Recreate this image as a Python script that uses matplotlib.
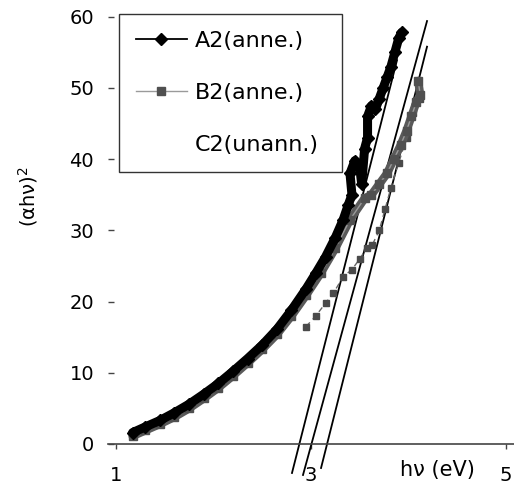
import matplotlib
matplotlib.use("Agg")
import matplotlib.pyplot as plt

plt.rcParams['font.family'] = ['DejaVu Sans']
plt.rcParams['mathtext.default'] = 'regular'

# ---- data ----
a2_x = [1.17, 1.30, 1.45, 1.60, 1.75, 1.90, 2.05, 2.20, 2.35, 2.50, 2.65, 2.80, 2.95, 3.05,
        3.15, 3.25, 3.33, 3.38, 3.42, 3.40, 3.45, 3.50, 3.52, 3.55, 3.58, 3.58, 3.62, 3.66,
        3.70, 3.74, 3.78, 3.82, 3.86, 3.90, 3.93]
a2_y = [1.6, 2.4, 3.3, 4.4, 5.6, 7.0, 8.5, 10.2, 12.0, 13.9, 16.1, 18.8, 21.8, 24.0,
        26.3, 29.0, 31.5, 33.5, 35.0, 38.0, 39.8, 38.8, 36.5, 41.5, 43.0, 46.0, 47.5, 47.0,
        48.5, 50.0, 51.5, 53.0, 55.0, 57.0, 57.8]

b2_x = [1.17, 1.30, 1.45, 1.60, 1.75, 1.90, 2.05, 2.20, 2.35, 2.50, 2.65, 2.80, 2.95,
        3.10, 3.25, 3.40, 3.55, 3.62, 3.70, 3.78, 3.85, 3.92, 3.98, 4.03, 4.08, 4.12, 4.10]
b2_y = [1.1, 1.9, 2.8, 3.8, 5.0, 6.4, 7.9, 9.6, 11.4, 13.3, 15.4, 18.0, 20.9,
        24.0, 27.5, 31.5, 34.5, 35.0, 36.5, 38.0, 40.0, 42.0, 44.0, 46.0, 48.0, 49.0, 51.0]

c2_x = [2.95, 3.05, 3.15, 3.23, 3.33, 3.42, 3.50, 3.57, 3.63, 3.70, 3.76, 3.82, 3.90,
        3.98, 4.05, 4.12]
c2_y = [16.5, 18.0, 19.8, 21.2, 23.5, 24.5, 26.0, 27.5, 28.0, 30.0, 33.0, 36.0, 39.5,
        43.0, 46.5, 48.5]

# linear fits (x, y end points)
fit_x = [[2.805, 3.882], [2.918, 4.190], [3.103, 4.190]]
fit_y = [[-4.07, 53.9], [-4.35, 59.4], [-3.37, 55.8]]

labels = ['A2(anne.)', 'B2(anne.)', 'C2(unann.)']
yticks = [0, 10, 20, 30, 40, 50, 60]
xticks = [1, 3, 5]

W, H = 514, 491
fig = plt.figure(figsize=(W / 100, H / 100), dpi=100)
ax = fig.add_axes([108 / W, (H - 476.75) / H, 406 / W, (476.75 - 6.1) / H])
ax.set_xlim(0.918, 5.082)
ax.set_ylim(-4.6, 61.5)

# fit lines
for fx, fy in zip(fit_x, fit_y):
    ax.plot(fx, fy, color='black', lw=1.3, zorder=2)

# C2 (unannealed)
ax.plot(c2_x, c2_y, color='#666666', lw=1.0, ls=(0, (4, 3)), marker='s', ms=4,
        mfc='#4a4a4a', mec='#4a4a4a', zorder=3, label=labels[2])

# B2 band + markers
ax.plot(b2_x, b2_y, color='#5a5a5a', lw=6, solid_capstyle='round', zorder=3.5)
ax.plot(b2_x, b2_y, color='#9a9a9a', lw=1.0, marker='s', ms=6, mfc='#505050',
        mec='#505050', zorder=4, label=labels[1])

# A2 band + markers
ax.plot(a2_x, a2_y, color='black', lw=6.5, solid_capstyle='round', zorder=5)
ax.plot(a2_x, a2_y, color='black', lw=1.3, marker='D', ms=6.5, mfc='black',
        mec='black', zorder=6, label=labels[0])

# axes styling
for s in ['top', 'right']:
    ax.spines[s].set_visible(False)
ax.spines['left'].set_position(('data', 0.98))
ax.spines['left'].set_color('none')
ax.spines['bottom'].set_position(('data', 0))
ax.spines['bottom'].set_color('#444444')
ax.spines['bottom'].set_linewidth(1.2)

ax.set_yticks(yticks)
ax.set_yticklabels([str(v) for v in yticks])
ax.set_xticks(xticks)
ax.set_xticklabels([str(v) for v in xticks])
ax.tick_params(axis='y', direction='out', length=4.3, width=1.0, color='#444444',
               pad=10, labelsize=14)
ax.tick_params(axis='x', direction='out', length=3.6, width=1.0, color='#444444',
               pad=12, labelsize=14)

handles, labs = ax.get_legend_handles_labels()
order = [labs.index(l) for l in labels]
leg = ax.legend([handles[i] for i in order], [labs[i] for i in order],
                bbox_to_anchor=(119 / W, 1 - 171 / H, 223 / W, 157 / H),
                bbox_transform=fig.transFigure, loc='upper left', mode='expand',
                borderaxespad=0, fontsize=16, frameon=True, fancybox=False,
                framealpha=1, edgecolor='#333333', handlelength=2.3,
                handletextpad=0.35, labelspacing=1.45, borderpad=0.75)
leg.get_frame().set_linewidth(1.0)
leg.set_zorder(10)
leg.legend_handles[2].set_visible(False)

fig.text(28 / W, 1 - 197 / H, '(αhν)$^{2}$', rotation=90, ha='center', va='center',
         fontsize=14)
fig.text(437 / W, 1 - 470 / H, 'hν (eV)', ha='center', va='center', fontsize=15)

fig.savefig('out.png', dpi=100)
